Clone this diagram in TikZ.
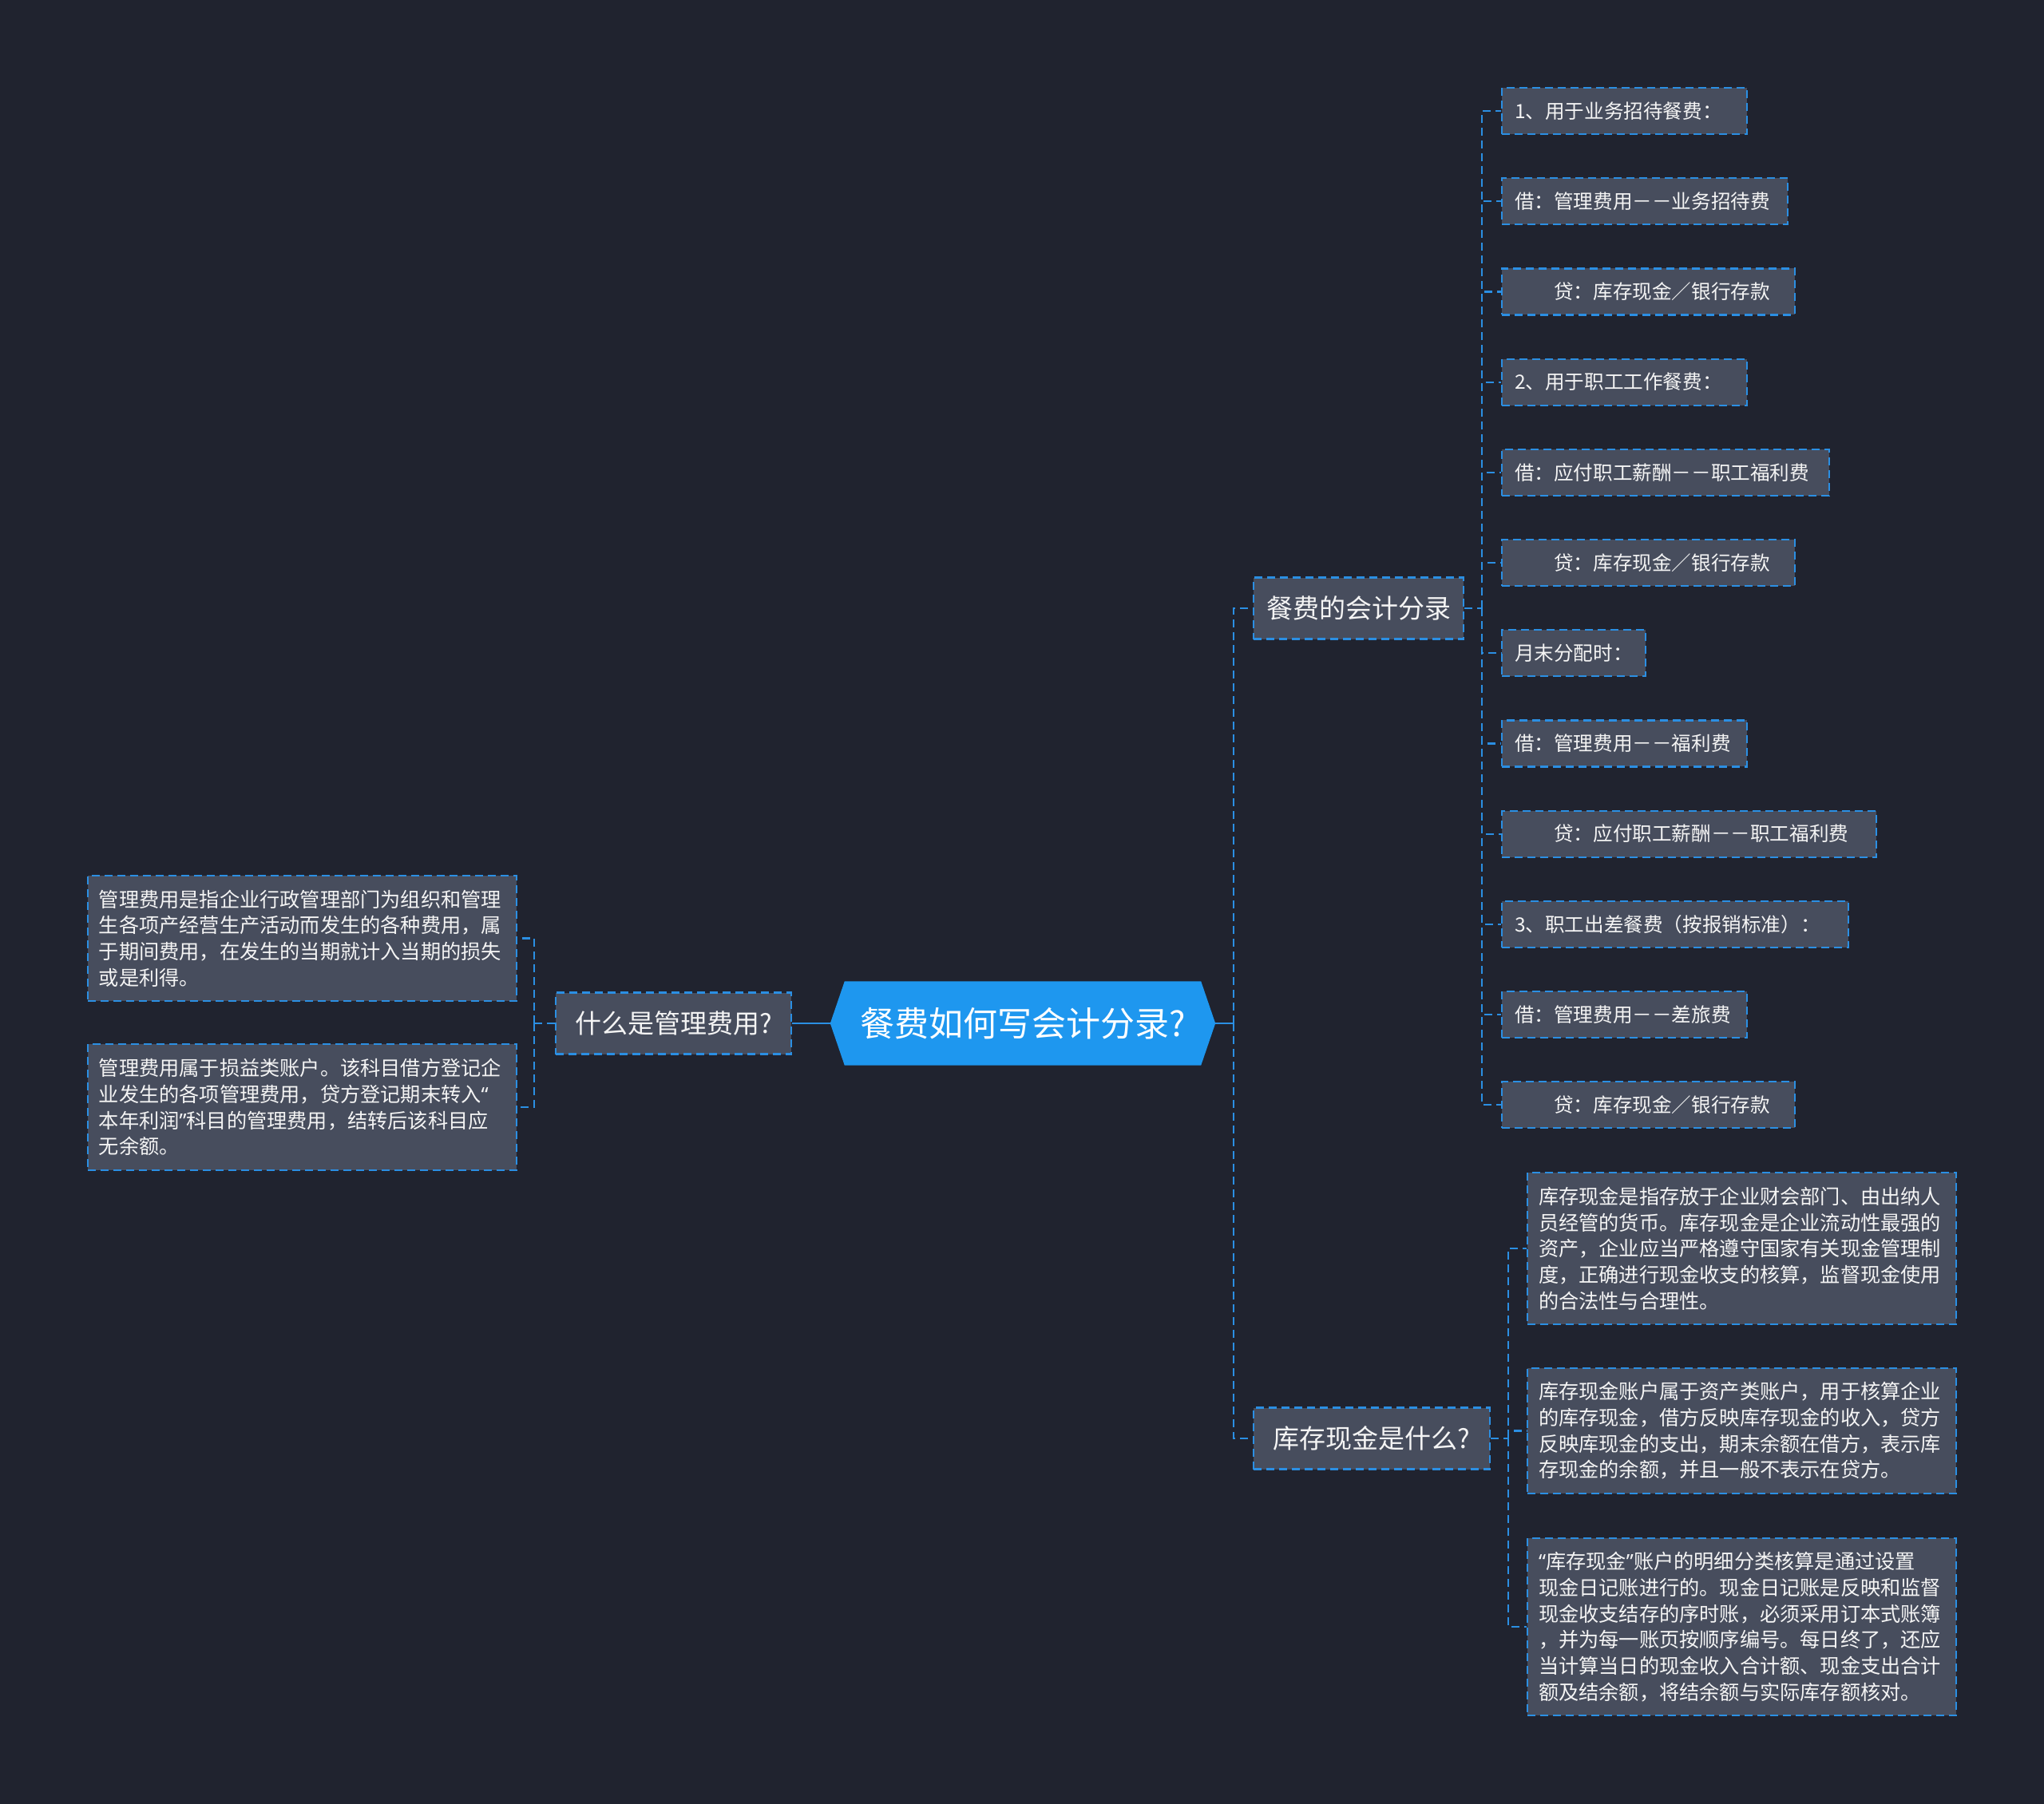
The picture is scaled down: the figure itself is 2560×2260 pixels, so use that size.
\documentclass[tikz,border=0pt]{standalone}
\usepackage{fontspec}
\setmainfont{Noto Sans CJK SC}
\newfontfamily\quotefont{Noto Sans}
\newcommand{\qopen}{{\quotefont “}}
\newcommand{\qclose}{{\quotefont ”}}
\definecolor{bg}{HTML}{20232F}
\definecolor{boxfill}{HTML}{474D5D}
\definecolor{edge}{HTML}{2B8FE3}
\definecolor{hubfill}{HTML}{1E97EF}
\definecolor{txt}{HTML}{F4F4F4}
\tikzset{
  lnk/.style={draw=edge, line width=2.2pt, dash pattern=on 10pt off 6pt},
  solidlnk/.style={draw=edge, line width=2.2pt},
  box/.style={rectangle, draw=edge, fill=boxfill, line width=2.2pt, dash pattern=on 10pt off 6pt, text=txt, inner ysep=0pt},
  smallbox/.style={box, anchor=west, minimum height=58pt, inner xsep=16pt, text width=#1, align=left, font=\fontsize{24.6}{30}\selectfont},
  bigbox/.style={box, inner xsep=14pt, text width=509pt, align=left, font=\fontsize{25.2}{32.7}\selectfont},
  topicbox/.style={box, minimum height=77pt, inner xsep=0pt, minimum width=#1, align=center, font=\fontsize{33}{40}\selectfont},
}
\begin{document}
\begin{tikzpicture}[x=1pt,y=-1pt]
\fill[bg] (0,0) rectangle (2560,2260);
\useasboundingbox (0,0) rectangle (2560,2260);

% central topic
\node[minimum width=482pt, minimum height=105pt, inner sep=0pt] (hub) at (1281,1282) {};
\fill[hubfill] ([xshift=18pt]hub.north west) -- ([xshift=-18pt]hub.north east) -- (hub.east)
  -- ([xshift=-18pt]hub.south east) -- ([xshift=18pt]hub.south west) -- (hub.west) -- cycle;
\node[text=white, font=\fontsize{43}{50}\selectfont] (hubtext) at (hub.center) {餐费如何写会计分录?};

% main branches
\node[topicbox=295pt] (mgmt) at (843.5,1282) {什么是管理费用?};
\node[topicbox=263pt, anchor=west] (canfei) at (1569,762) {餐费的会计分录};
\node[topicbox=296pt, anchor=west] (kucun) at (1569,1802) {库存现金是什么?};

% left details
\node[bigbox, anchor=east, minimum height=157pt] (lb1) at (648,1175.5) {管理费用是指企业行政管理部门为组织和管理\\生各项产经营生产活动而发生的各种费用，属\\于期间费用，在发生的当期就计入当期的损失\\或是利得。};
\node[bigbox, anchor=east, minimum height=158pt] (lb2) at (648,1387) {管理费用属于损益类账户。该科目借方登记企\\业发生的各项管理费用，贷方登记期末转入\qopen\\本年利润\qclose 科目的管理费用，结转后该科目应\\无余额。};

% right small entries
\node[smallbox=275pt] (s1) at (1880,139) {1、用于业务招待餐费：};
\node[smallbox=326pt] (s2) at (1880,252.2) {借：管理费用－－业务招待费};
\node[smallbox=335pt] (s3) at (1880,365.4) {\hspace*{2em}贷：库存现金／银行存款};
\node[smallbox=275pt] (s4) at (1880,478.6) {2、用于职工工作餐费：};
\node[smallbox=378pt] (s5) at (1880,591.8) {借：应付职工薪酬－－职工福利费};
\node[smallbox=335pt] (s6) at (1880,705) {\hspace*{2em}贷：库存现金／银行存款};
\node[smallbox=148pt] (s7) at (1880,818.2) {月末分配时：};
\node[smallbox=275pt] (s8) at (1880,931.4) {借：管理费用－－福利费};
\node[smallbox=437pt] (s9) at (1880,1044.6) {\hspace*{2em}贷：应付职工薪酬－－职工福利费};
\node[smallbox=402pt] (s10) at (1880,1157.8) {3、职工出差餐费（按报销标准）：};
\node[smallbox=275pt] (s11) at (1880,1271) {借：管理费用－－差旅费};
\node[smallbox=335pt] (s12) at (1880,1384.2) {\hspace*{2em}贷：库存现金／银行存款};

% right big boxes
\node[bigbox, anchor=west, minimum height=190pt] (rb1) at (1912,1564) {库存现金是指存放于企业财会部门、由出纳人\\员经管的货币。库存现金是企业流动性最强的\\资产，企业应当严格遵守国家有关现金管理制\\度，正确进行现金收支的核算，监督现金使用\\的合法性与合理性。};
\node[bigbox, anchor=west, minimum height=157pt] (rb2) at (1912,1792.5) {库存现金账户属于资产类账户，用于核算企业\\的库存现金，借方反映库存现金的收入，贷方\\反映库现金的支出，期末余额在借方，表示库\\存现金的余额，并且一般不表示在贷方。};
\node[bigbox, anchor=west, minimum height=222pt] (rb3) at (1912,2038) {\qopen 库存现金\qclose 账户的明细分类核算是通过设置\\现金日记账进行的。现金日记账是反映和监督\\现金收支结存的序时账，必须采用订本式账簿\\，并为每一账页按顺序编号。每日终了，还应\\当计算当日的现金收入合计额、现金支出合计\\额及结余额，将结余额与实际库存额核对。};

% junctions
\coordinate (rtrunk) at (1545,1282);
\coordinate (ltrunk) at (669,1282);
\coordinate (ctrunk) at (1856,762);
\coordinate (ktrunk) at (1889,1802);

% connectors
\draw[solidlnk] (mgmt.east) -- (hub.west);
\draw[solidlnk] (hub.east) -- (rtrunk);
\draw[lnk] (rtrunk) |- (canfei.west);
\draw[lnk] (rtrunk) |- (kucun.west);
\draw[lnk] (mgmt.west) -- (ltrunk);
\draw[lnk] (ltrunk) |- (lb1.east);
\draw[lnk] (ltrunk) |- (lb2.east);
\draw[lnk] (canfei.east) -- (ctrunk);
\foreach \i in {1,...,12} { \draw[lnk] (ctrunk) |- (s\i.west); }
\draw[lnk] (kucun.east) -- (ktrunk);
\foreach \i in {1,2,3} { \draw[lnk] (ktrunk) |- (rb\i.west); }
\end{tikzpicture}
\end{document}
